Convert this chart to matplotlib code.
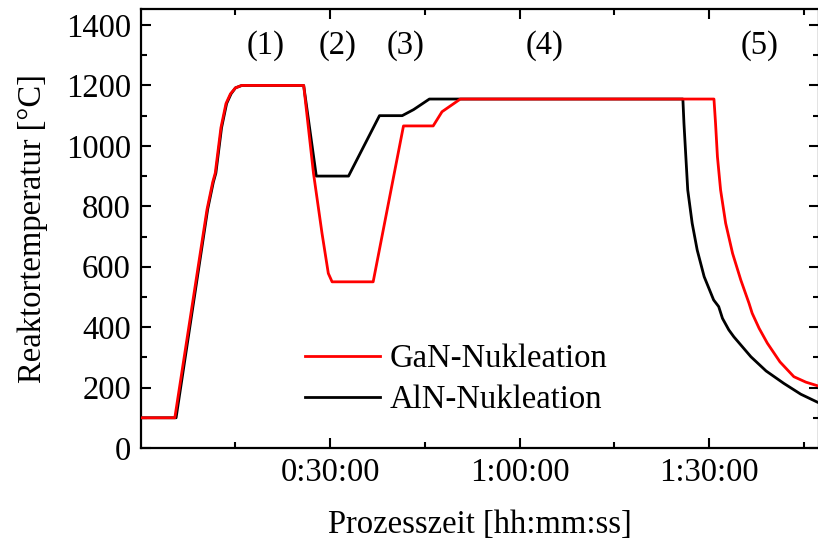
import matplotlib
matplotlib.use("Agg")
import matplotlib.pyplot as plt
from matplotlib.ticker import FixedLocator, MultipleLocator, FuncFormatter

plt.rcParams['font.family'] = ['Liberation Serif', 'DejaVu Serif']

# time in minutes, temperature in °C
aln_t = [0, 5.6, 10.6, 11.5, 11.9, 12.8, 13.6, 14.3, 15.0, 16.0, 25.8, 27.8, 32.9,
         37.8, 41.4, 43.2, 45.7, 85.83, 86.0, 86.3, 86.6, 87.3, 88.1, 89.2, 90.7,
         91.5, 92.1, 93.1, 93.9, 96.6, 99.0, 101.8, 104.5, 107.3]
aln_T = [100, 100, 790, 880, 910, 1060, 1140, 1172, 1192, 1200, 1200, 900, 900,
         1100, 1100, 1120, 1155, 1155, 1075, 964, 854, 744, 655, 567, 490,
         468, 429, 391, 368, 302, 255, 214, 178, 150]

gan_t = [0, 5.4, 10.5, 11.4, 11.8, 12.7, 13.5, 14.2, 15.0, 16.0, 25.8, 27.35, 28.7,
         29.7, 30.3, 36.8, 41.6, 46.3, 47.7, 50.6, 90.75, 91.0, 91.3, 91.8, 92.6,
         93.7, 95.0, 96.3, 96.8, 97.9, 99.2, 101.2, 103.4, 105.3, 107.3]
gan_T = [100, 100, 790, 880, 910, 1060, 1140, 1172, 1192, 1200, 1200, 910, 711,
         578, 550, 550, 1066, 1066, 1113, 1155, 1155, 1075, 964, 854, 744,
         644, 556, 479, 446, 396, 347, 285, 236, 218, 205]

phase_labels = ["(1)", "(2)", "(3)", "(4)", "(5)"]
phase_x = [19.8, 31.15, 42.0, 64.0, 98.0]
phase_y = 1331

series_names = ["GaN-Nukleation", "AlN-Nukleation"]

FS = 23.5

fig = plt.figure(figsize=(8.18, 5.45), dpi=100)
ax = fig.add_axes([140.7/818, 1-448/545, (818.5-140.7)/818, (448-9)/545])

ax.plot(gan_t, gan_T, color='#ff0000', lw=2.0, label=series_names[0], zorder=3)
ax.plot(aln_t, aln_T, color='black', lw=2.0, label=series_names[1], zorder=2)

for lab, px in zip(phase_labels, phase_x):
    ax.text(px, phase_y, lab, ha='center', va='center', fontsize=FS)

ax.set_xlim(0, 107.3)
ax.set_ylim(0, 1453)

def fmt(v, pos):
    m = int(round(v))
    return f"{m // 60}:{m % 60:02d}:00"

ax.xaxis.set_major_locator(FixedLocator([30, 60, 90]))
ax.xaxis.set_major_formatter(FuncFormatter(fmt))
ax.xaxis.set_minor_locator(FixedLocator([15, 45, 75, 105]))
ax.yaxis.set_major_locator(MultipleLocator(200))
ax.yaxis.set_minor_locator(MultipleLocator(100))

ax.tick_params(which='both', direction='in', top=True, right=True, width=1.5,
               labelsize=FS, pad=7)
ax.tick_params(which='major', length=7)
ax.tick_params(which='minor', length=4)
for s in ax.spines.values():
    s.set_linewidth(1.6)

ax.set_xlabel("Prozesszeit [hh:mm:ss]", fontsize=FS, labelpad=15)
ax.set_ylabel("Reaktortemperatur [°C]", fontsize=FS, labelpad=13)

ax.legend(loc='center left', bbox_to_anchor=(0.2426, 0.1556), frameon=False,
          fontsize=FS, handlelength=2.3, handletextpad=0.3, borderpad=0,
          borderaxespad=0, labelspacing=0.32)

fig.savefig("out.png", dpi=100)
